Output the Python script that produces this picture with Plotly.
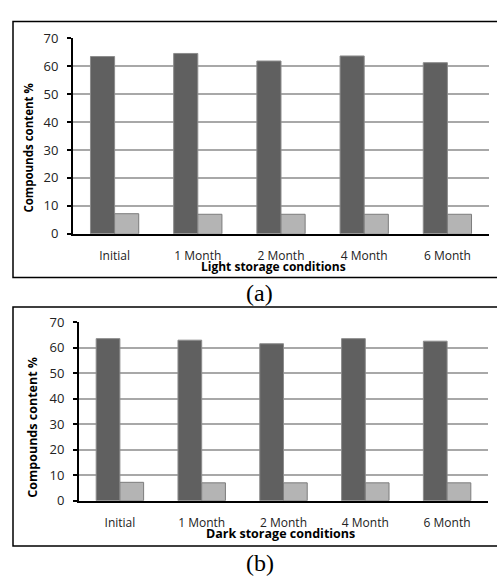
import plotly.graph_objects as go

categories = ["Initial", "1 Month", "2 Month", "4 Month", "6 Month"]
light_major = [63.4, 64.5, 61.8, 63.6, 61.2]
light_minor = [7.2, 7.0, 7.0, 7.0, 7.0]
dark_major = [63.6, 63.0, 61.6, 63.6, 62.6]
dark_minor = [7.2, 7.0, 7.0, 7.0, 7.0]
y_ticks = [0, 10, 20, 30, 40, 50, 60, 70]

W, H = 497, 584
def px(x):
    return x / W
def py(y):
    return 1 - y / H

DARK = "#606060"
LIGHT = "#b4b4b4"
FONT = "Open Sans"

fig = go.Figure()
fig.add_trace(go.Bar(x=categories, y=light_major, marker=dict(color=DARK, line=dict(color="#8c8c8c", width=1)), xaxis="x", yaxis="y", showlegend=False))
fig.add_trace(go.Bar(x=categories, y=light_minor, marker=dict(color=LIGHT, line=dict(color="#7c7c7c", width=1)), xaxis="x", yaxis="y", showlegend=False))
fig.add_trace(go.Bar(x=categories, y=dark_major, marker=dict(color=DARK, line=dict(color="#8c8c8c", width=1)), xaxis="x2", yaxis="y2", showlegend=False))
fig.add_trace(go.Bar(x=categories, y=dark_minor, marker=dict(color=LIGHT, line=dict(color="#7c7c7c", width=1)), xaxis="x2", yaxis="y2", showlegend=False))

xcommon = dict(showline=True, linecolor="black", linewidth=2, ticks="", showgrid=False,
               tickfont=dict(family=FONT, size=12, color="#222"), ticklabelstandoff=10)
ycommon = dict(range=[0, 70], tickvals=y_ticks, showline=True, linecolor="black", linewidth=2,
               ticks="outside", ticklen=4, tickcolor="black", tickwidth=2,
               showgrid=True, gridcolor="#a8a8a8", gridwidth=1.5, zeroline=False,
               tickfont=dict(family=FONT, size=13, color="#222"), ticklabelstandoff=6)

fig.update_layout(
    width=W, height=H, margin=dict(l=0, r=0, t=0, b=0),
    paper_bgcolor="white", plot_bgcolor="white",
    barmode="group", bargap=0.42, bargroupgap=0,
    xaxis=dict(domain=[px(73), px(489)], anchor="y", **xcommon),
    yaxis=dict(domain=[py(232), py(30)], anchor="x", **ycommon),
    xaxis2=dict(domain=[px(79), px(488)], anchor="y2", **xcommon),
    yaxis2=dict(domain=[py(507.3), py(323.3)], anchor="x2", **ycommon),
    shapes=[
        dict(type="rect", xref="paper", yref="paper", x0=px(13), x1=px(499), y0=py(277), y1=py(13),
             line=dict(color="black", width=1.5)),
        dict(type="rect", xref="paper", yref="paper", x0=px(13), x1=px(499), y0=py(554), y1=py(307.5),
             line=dict(color="black", width=1.5)),
    ],
    annotations=[
        dict(text="<b>Light storage conditions</b>", xref="paper", yref="paper", x=px(273), y=py(266),
             showarrow=False, font=dict(family=FONT, size=12, color="black"), xanchor="center", yanchor="middle"),
        dict(text="<b>Dark storage conditions</b>", xref="paper", yref="paper", x=px(280), y=py(541.5),
             showarrow=False, font=dict(family=FONT, size=12.5, color="black"), xanchor="center", yanchor="middle"),
        dict(text="<b>Compounds content %</b>", xref="paper", yref="paper", x=px(29), y=py(143),
             textangle=-90, showarrow=False, font=dict(family=FONT, size=11.5, color="black"), xanchor="center", yanchor="middle"),
        dict(text="<b>Compounds content %</b>", xref="paper", yref="paper", x=px(33), y=py(432),
             textangle=-90, showarrow=False, font=dict(family=FONT, size=12.5, color="black"), xanchor="center", yanchor="middle"),
        dict(text="(a)", xref="paper", yref="paper", x=px(259), y=py(293),
             showarrow=False, font=dict(family="Liberation Serif", size=24, color="black"), xanchor="center", yanchor="middle"),
        dict(text="(b)", xref="paper", yref="paper", x=px(260), y=py(572),
             showarrow=False, font=dict(family="Liberation Serif", size=24, color="black"), xanchor="center", yanchor="middle"),
    ],
)

fig.write_html(
    "out.html",
    config={"displayModeBar": False},
    post_script=(
        "var d=document.getElementById('{plot_id}');var p=d.parentElement;"
        "p.style.position='fixed';p.style.top='0';p.style.left='0';p.style.margin='0';"
        "document.documentElement.style.overflow='hidden';"
        "document.body.style.margin='0';document.body.style.padding='0';"
        "document.body.style.overflow='hidden';document.body.style.height='0';"
    ),
)
